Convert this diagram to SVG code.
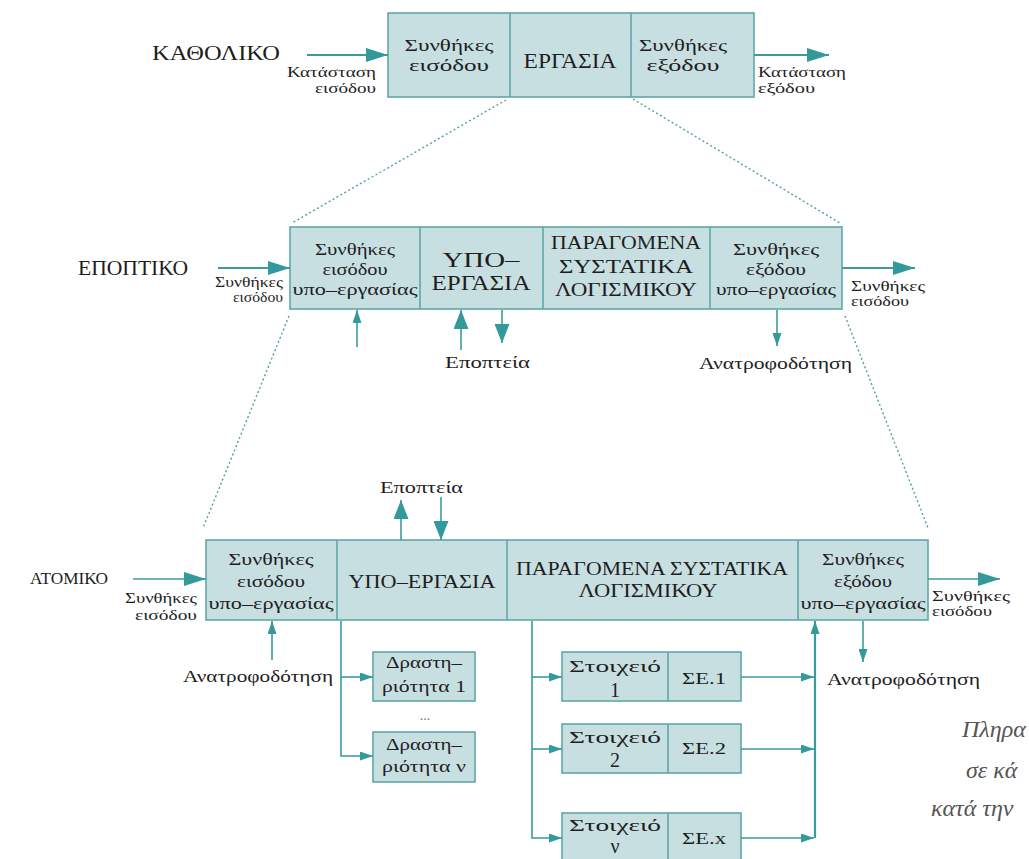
<svg xmlns="http://www.w3.org/2000/svg" width="1029" height="859" viewBox="0 0 1029 859" font-family="'Liberation Serif', 'Times New Roman', Times, serif">
  <style>
    .t { font-family: 'Liberation Serif', 'Times New Roman', Times, serif; fill: #1e1e1e; }
    .c { text-anchor: middle; }
    .box { fill: #c8dfe2; stroke: #5fa7a9; stroke-width: 1.6; }
    .div { stroke: #5fa7a9; stroke-width: 1.6; fill: none; }
    .ln { stroke: #3a9b9c; stroke-width: 1.6; fill: none; }
    .ln2 { stroke: #3a9b9c; stroke-width: 2.2; fill: none; }
    .dot { stroke: #4ba2a8; stroke-width: 1.4; stroke-dasharray: 2 2.5; fill: none; }
    .cap { font-style: italic; fill: #555; font-size: 24px; }
    .num { font-size: 20px; }
    .s14 { font-size: 14px; }
    .s15 { font-size: 15px; }
    .s16 { font-size: 16px; }
  </style>
  <defs>
    <marker id="big" markerUnits="userSpaceOnUse" markerWidth="22" markerHeight="14" viewBox="0 0 22 14" refX="22" refY="7" orient="auto">
      <path d="M0,0 L22,7 L0,14 z" fill="#34999a"/>
    </marker>
    <marker id="med" markerUnits="userSpaceOnUse" markerWidth="19" markerHeight="15" viewBox="0 0 19 15" refX="19" refY="7.5" orient="auto">
      <path d="M0,0 L19,7.5 L0,15 z" fill="#34999a"/>
    </marker>
    <marker id="sm" markerUnits="userSpaceOnUse" markerWidth="13" markerHeight="9" viewBox="0 0 13 9" refX="13" refY="4.5" orient="auto">
      <path d="M0,0 L13,4.5 L0,9 z" fill="#34999a"/>
    </marker>
  </defs>

  <!-- zoom guides between levels -->
  <g id="guides">
    <line class="dot" x1="506" y1="100" x2="292" y2="223"/>
    <line class="dot" x1="633" y1="99" x2="840" y2="223"/>
    <line class="dot" x1="289" y1="316" x2="203" y2="528"/>
    <line class="dot" x1="845" y1="316" x2="928" y2="528"/>
  </g>

  <!-- level labels -->
  <g id="levels" class="t">
    <text x="152" y="60" font-size="22" textLength="128" lengthAdjust="spacingAndGlyphs">ΚΑΘΟΛΙΚΟ</text>
    <text x="78" y="275" font-size="20" textLength="110" lengthAdjust="spacingAndGlyphs">ΕΠΟΠΤΙΚΟ</text>
    <text x="30" y="584" font-size="17" textLength="78" lengthAdjust="spacingAndGlyphs">ΑΤΟΜΙΚΟ</text>
  </g>

  <!-- level 1 -->
  <g id="top-box" class="t">
    <rect class="box" x="388" y="13" width="366" height="84"/>
    <line class="div" x1="510" y1="13" x2="510" y2="97"/>
    <line class="div" x1="631" y1="13" x2="631" y2="97"/>
    <text class="c s16" x="449" y="51" textLength="89" lengthAdjust="spacingAndGlyphs">Συνθήκες</text>
    <text class="c s16" x="449" y="71" textLength="80" lengthAdjust="spacingAndGlyphs">εισόδου</text>
    <text class="c" x="570" y="68" font-size="21" textLength="93" lengthAdjust="spacingAndGlyphs">ΕΡΓΑΣΙΑ</text>
    <text class="c s16" x="683" y="51" textLength="88" lengthAdjust="spacingAndGlyphs">Συνθήκες</text>
    <text class="c s16" x="683" y="71" textLength="73" lengthAdjust="spacingAndGlyphs">εξόδου</text>
  </g>
  <g id="top-labels" class="t">
    <text class="s15" x="287" y="77" textLength="89" lengthAdjust="spacingAndGlyphs">Κατάσταση</text>
    <text class="s15" x="315" y="93" textLength="61" lengthAdjust="spacingAndGlyphs">εισόδου</text>
    <text class="s15" x="758" y="77" textLength="88" lengthAdjust="spacingAndGlyphs">Κατάσταση</text>
    <text class="s15" x="758" y="93" textLength="57" lengthAdjust="spacingAndGlyphs">εξόδου</text>
  </g>

  <!-- level 2 -->
  <g id="mid-box" class="t">
    <rect class="box" x="290" y="227" width="552" height="82"/>
    <line class="div" x1="420" y1="227" x2="420" y2="309"/>
    <line class="div" x1="543" y1="227" x2="543" y2="309"/>
    <line class="div" x1="710" y1="227" x2="710" y2="309"/>
    <text class="c s16" x="355" y="255" textLength="80" lengthAdjust="spacingAndGlyphs">Συνθήκες</text>
    <text class="c s16" x="355" y="275" textLength="65" lengthAdjust="spacingAndGlyphs">εισόδου</text>
    <text class="c s16" x="355" y="295" textLength="125" lengthAdjust="spacingAndGlyphs">υπο–εργασίας</text>
    <text class="c" x="481" y="267" font-size="21" textLength="77" lengthAdjust="spacingAndGlyphs">ΥΠΟ–</text>
    <text class="c" x="481" y="290" font-size="21" textLength="99" lengthAdjust="spacingAndGlyphs">ΕΡΓΑΣΙΑ</text>
    <text class="c" x="626" y="249" font-size="19" textLength="150" lengthAdjust="spacingAndGlyphs">ΠΑΡΑΓΟΜΕΝΑ</text>
    <text class="c" x="626" y="273" font-size="19" textLength="134" lengthAdjust="spacingAndGlyphs">ΣΥΣΤΑΤΙΚΑ</text>
    <text class="c" x="626" y="296" font-size="19" textLength="142" lengthAdjust="spacingAndGlyphs">ΛΟΓΙΣΜΙΚΟΥ</text>
    <text class="c s16" x="776" y="255" textLength="86" lengthAdjust="spacingAndGlyphs">Συνθήκες</text>
    <text class="c s16" x="776" y="275" textLength="60" lengthAdjust="spacingAndGlyphs">εξόδου</text>
    <text class="c s16" x="776" y="295" textLength="120" lengthAdjust="spacingAndGlyphs">υπο–εργασίας</text>
  </g>
  <g id="mid-labels" class="t">
    <text class="s14" x="215" y="287" textLength="68" lengthAdjust="spacingAndGlyphs">Συνθήκες</text>
    <text class="s14" x="233" y="302" textLength="50" lengthAdjust="spacingAndGlyphs">εισόδου</text>
    <text class="s14" x="851" y="291" textLength="74" lengthAdjust="spacingAndGlyphs">Συνθήκες</text>
    <text class="s14" x="851" y="306" textLength="58" lengthAdjust="spacingAndGlyphs">εισόδου</text>
    <text class="s16" x="445" y="368" textLength="85" lengthAdjust="spacingAndGlyphs">Εποπτεία</text>
    <text class="s16" x="699" y="369" textLength="153" lengthAdjust="spacingAndGlyphs">Ανατροφοδότηση</text>
  </g>

  <!-- level 3 -->
  <g id="low-box" class="t">
    <rect class="box" x="206" y="540" width="722" height="80"/>
    <line class="div" x1="337" y1="540" x2="337" y2="620"/>
    <line class="div" x1="507" y1="540" x2="507" y2="620"/>
    <line class="div" x1="798" y1="540" x2="798" y2="620"/>
    <text class="c s16" x="271" y="565" textLength="85" lengthAdjust="spacingAndGlyphs">Συνθήκες</text>
    <text class="c s16" x="271" y="587" textLength="68" lengthAdjust="spacingAndGlyphs">εισόδου</text>
    <text class="c s16" x="271" y="609" textLength="125" lengthAdjust="spacingAndGlyphs">υπο–εργασίας</text>
    <text class="c" x="422" y="588" font-size="19" textLength="147" lengthAdjust="spacingAndGlyphs">ΥΠΟ–ΕΡΓΑΣΙΑ</text>
    <text class="c" x="652" y="575" font-size="18" textLength="272" lengthAdjust="spacingAndGlyphs">ΠΑΡΑΓΟΜΕΝΑ ΣΥΣΤΑΤΙΚΑ</text>
    <text class="c" x="648" y="597" font-size="18" textLength="139" lengthAdjust="spacingAndGlyphs">ΛΟΓΙΣΜΙΚΟΥ</text>
    <text class="c s16" x="863" y="565" textLength="82" lengthAdjust="spacingAndGlyphs">Συνθήκες</text>
    <text class="c s16" x="863" y="587" textLength="58" lengthAdjust="spacingAndGlyphs">εξόδου</text>
    <text class="c s16" x="863" y="609" textLength="125" lengthAdjust="spacingAndGlyphs">υπο–εργασίας</text>
  </g>
  <g id="low-labels" class="t">
    <text class="s14" x="125" y="603" textLength="72" lengthAdjust="spacingAndGlyphs">Συνθήκες</text>
    <text class="s14" x="135" y="620" textLength="62" lengthAdjust="spacingAndGlyphs">εισόδου</text>
    <text class="s14" x="932" y="601" textLength="78" lengthAdjust="spacingAndGlyphs">Συνθήκες</text>
    <text class="s14" x="932" y="616" textLength="60" lengthAdjust="spacingAndGlyphs">εισόδου</text>
    <text class="s16" x="380" y="493" textLength="83" lengthAdjust="spacingAndGlyphs">Εποπτεία</text>
    <text class="s16" x="183" y="682" textLength="150" lengthAdjust="spacingAndGlyphs">Ανατροφοδότηση</text>
    <text class="s16" x="827" y="685" textLength="153" lengthAdjust="spacingAndGlyphs">Ανατροφοδότηση</text>
  </g>

  <!-- activities -->
  <g id="activity-1" class="t">
    <rect class="box" x="373" y="652" width="102" height="49"/>
    <text class="c s16" x="424" y="668" textLength="76" lengthAdjust="spacingAndGlyphs">Δραστη–</text>
    <text class="c s16" x="424" y="692" textLength="84" lengthAdjust="spacingAndGlyphs">ριότητα 1</text>
  </g>
  <g id="ellipsis" class="t">
    <text class="c s14" x="425" y="720" style="fill:#777">...</text>
  </g>
  <g id="activity-n" class="t">
    <rect class="box" x="373" y="732" width="102" height="50"/>
    <text class="c s16" x="424" y="750" textLength="76" lengthAdjust="spacingAndGlyphs">Δραστη–</text>
    <text class="c s16" x="424" y="772" textLength="84" lengthAdjust="spacingAndGlyphs">ριότητα ν</text>
  </g>

  <!-- software components -->
  <g id="element-1" class="t">
    <rect class="box" x="562" y="652" width="179" height="49"/>
    <line class="div" x1="668" y1="652" x2="668" y2="701"/>
    <text class="c s16" x="615" y="672" textLength="92" lengthAdjust="spacingAndGlyphs">Στοιχειό</text>
    <text class="c num" x="615" y="697">1</text>
    <text class="c s16" x="704" y="684" textLength="44" lengthAdjust="spacingAndGlyphs">ΣΕ.1</text>
  </g>
  <g id="element-2" class="t">
    <rect class="box" x="562" y="724" width="179" height="49"/>
    <line class="div" x1="668" y1="724" x2="668" y2="773"/>
    <text class="c s16" x="615" y="743" textLength="92" lengthAdjust="spacingAndGlyphs">Στοιχειό</text>
    <text class="c num" x="615" y="767">2</text>
    <text class="c s16" x="704" y="754" textLength="44" lengthAdjust="spacingAndGlyphs">ΣΕ.2</text>
  </g>
  <g id="element-n" class="t">
    <rect class="box" x="562" y="813" width="179" height="60"/>
    <line class="div" x1="668" y1="813" x2="668" y2="873"/>
    <text class="c s16" x="615" y="831" textLength="92" lengthAdjust="spacingAndGlyphs">Στοιχειό</text>
    <text class="c num" x="615" y="853">ν</text>
    <text class="c s16" x="704" y="844" textLength="44" lengthAdjust="spacingAndGlyphs">ΣΕ.x</text>
  </g>

  <!-- connectors -->
  <g id="connectors">
    <line class="ln2" x1="307" y1="55" x2="388" y2="55" marker-end="url(#big)"/>
    <line class="ln2" x1="754" y1="55" x2="829" y2="55" marker-end="url(#big)"/>
    <line class="ln2" x1="218" y1="268" x2="290" y2="268" marker-end="url(#big)"/>
    <line class="ln2" x1="842" y1="268" x2="915" y2="268" marker-end="url(#big)"/>
    <line class="ln" x1="133" y1="579" x2="206" y2="579" marker-end="url(#big)"/>
    <line class="ln" x1="928" y1="579" x2="1000" y2="579" marker-end="url(#big)"/>

    <line class="ln" x1="357" y1="347" x2="357" y2="310" marker-end="url(#sm)"/>
    <line class="ln" x1="461" y1="350" x2="461" y2="310" marker-end="url(#med)"/>
    <line class="ln" x1="502" y1="310" x2="502" y2="343" marker-end="url(#med)"/>
    <line class="ln" x1="777" y1="310" x2="777" y2="346" marker-end="url(#sm)"/>

    <line class="ln" x1="401" y1="540" x2="401" y2="500" marker-end="url(#med)"/>
    <line class="ln" x1="441" y1="497" x2="441" y2="540" marker-end="url(#med)"/>
    <line class="ln" x1="272" y1="660" x2="272" y2="621" marker-end="url(#sm)"/>
    <line class="ln" x1="863" y1="621" x2="863" y2="662" marker-end="url(#sm)"/>

    <polyline class="ln" points="341,621 341,756 373,756" marker-end="url(#sm)"/>
    <line class="ln" x1="341" y1="677" x2="373" y2="677" marker-end="url(#sm)"/>

    <polyline class="ln" points="532,621 532,838 562,838" marker-end="url(#sm)"/>
    <line class="ln" x1="532" y1="677" x2="562" y2="677" marker-end="url(#sm)"/>
    <line class="ln" x1="532" y1="749" x2="562" y2="749" marker-end="url(#sm)"/>

    <line class="ln" x1="741" y1="677" x2="814" y2="677" marker-end="url(#sm)"/>
    <line class="ln" x1="741" y1="749" x2="814" y2="749" marker-end="url(#sm)"/>
    <line class="ln" x1="741" y1="838" x2="814" y2="838" marker-end="url(#sm)"/>
    <line class="ln2" x1="815" y1="838" x2="815" y2="621" marker-end="url(#sm)"/>
  </g>

  <!-- side caption -->
  <g id="caption" class="t">
    <text class="cap" x="962" y="737">Πληρα</text>
    <text class="cap" x="966" y="778">σε κά</text>
    <text class="cap" x="931" y="816">κατά την</text>
  </g>
</svg>
